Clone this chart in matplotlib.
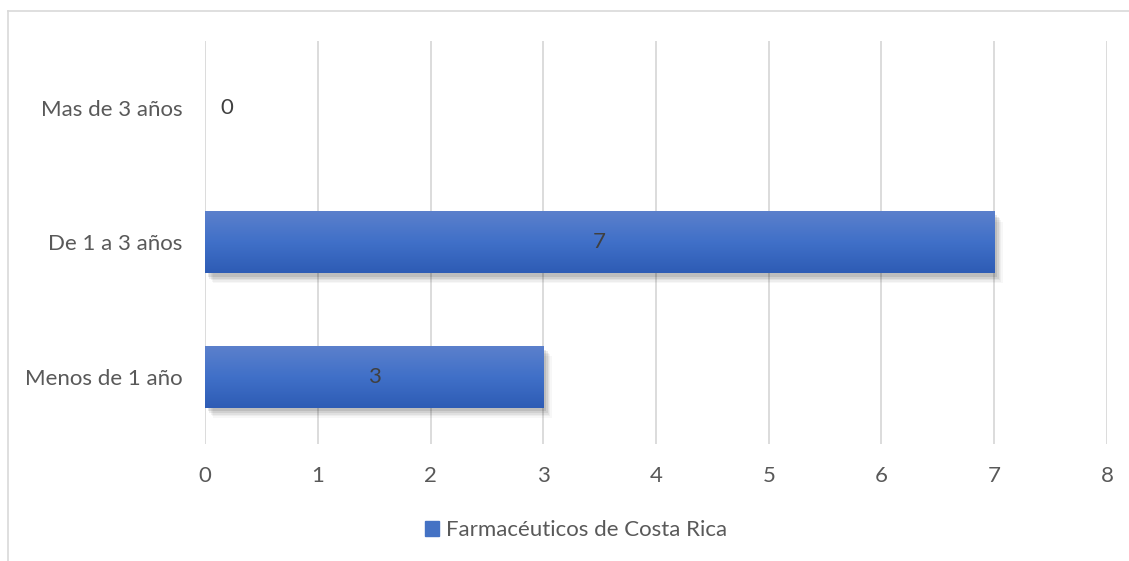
import numpy as np
import matplotlib.pyplot as plt
from matplotlib.colors import LinearSegmentedColormap
from matplotlib.patches import Rectangle

categories = ["Menos de 1 año", "De 1 a 3 años", "Mas de 3 años"]
values = [3, 7, 0]
series_name = "Farmacéuticos de Costa Rica"
x_ticks = [0, 1, 2, 3, 4, 5, 6, 7, 8]

plt.rcParams['font.family'] = ['Lato', 'DejaVu Sans']
text_col = "#595959"
grid_col = "#d9d9d9"
fs = 16

fig = plt.figure(figsize=(11.29, 5.61), dpi=100)
ax = fig.add_axes([0.1816, 0.2086, 0.7989, 0.7183])

# chart border (only left and top visible in the reference)
fig.add_artist(plt.Line2D([8 / 1129, 8 / 1129], [0, 1 - 11 / 561], color=grid_col, lw=1.2))
fig.add_artist(plt.Line2D([8 / 1129, 1], [1 - 11 / 561, 1 - 11 / 561], color=grid_col, lw=1.2))

grad = LinearSegmentedColormap.from_list("g", ["#2e5cb5", "#4070c8", "#5b80cc"])
h = 0.46
y = np.arange(len(categories))

for yi, v in zip(y, values):
    if v <= 0:
        continue
    # soft shadow
    for k, a in enumerate([0.09, 0.07, 0.05, 0.04, 0.03]):
        d = 0.012 * (k + 1)
        ax.add_patch(Rectangle((0.015 + d, yi - h / 2 - 0.015 - d), v, h, color="black",
                               alpha=a, lw=0, zorder=2))
    g = np.linspace(0, 1, 64).reshape(-1, 1)
    ax.imshow(g, cmap=grad, aspect="auto", origin="lower",
              extent=(0, v, yi - h / 2, yi + h / 2), zorder=3)

for yi, v in zip(y, values):
    if v > 0:
        ax.text(v / 2, yi, str(v), ha="center", va="center", fontsize=fs, color="#404040", zorder=5)
    else:
        ax.annotate(str(v), (v, yi), xytext=(16, 0), textcoords="offset points",
                    ha="center", va="center", fontsize=fs, color="#404040")

ax.set_xlim(0, 8)
ax.set_ylim(-0.5, 2.5)
ax.set_xticks(x_ticks)
ax.set_yticks(y)
ax.set_yticklabels(categories)
ax.grid(axis="x", color=grid_col, lw=1.3, zorder=0)
ax.set_axisbelow(True)
for s in ax.spines.values():
    s.set_visible(False)
ax.tick_params(axis="both", length=0, labelsize=fs, labelcolor=text_col)
ax.tick_params(axis="x", pad=16)
ax.tick_params(axis="y", pad=16)

handle = Rectangle((0, 0), 1, 1, color="#4472c4")
fig.legend([handle], [series_name], loc="center", bbox_to_anchor=(576 / 1129, 1 - 530 / 561),
           frameon=False, fontsize=fs, labelcolor=text_col, handlelength=0.65, handleheight=0.65,
           handletextpad=0.3)

fig.savefig("out.png", dpi=100)
